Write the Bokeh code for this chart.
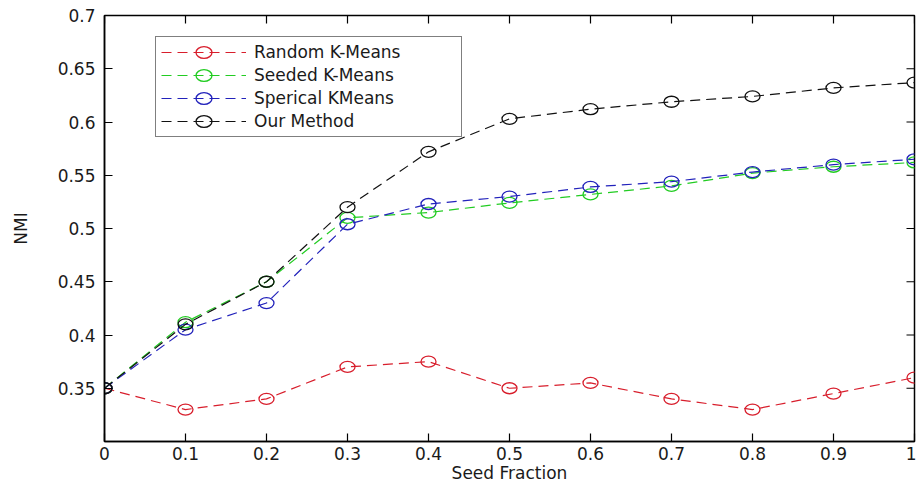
import math
from bokeh.plotting import figure
from bokeh.models import Range1d, FixedTicker, Legend, LegendItem
from bokeh.embed import file_html
from bokeh.resources import INLINE

# ---- data ----
seed_fraction = [0.0, 0.1, 0.2, 0.3, 0.4, 0.5, 0.6, 0.7, 0.8, 0.9, 1.0]
random_kmeans = [0.35, 0.33, 0.34, 0.37, 0.375, 0.35, 0.355, 0.34, 0.33, 0.345, 0.36]
seeded_kmeans = [0.35, 0.412, 0.45, 0.51, 0.515, 0.524, 0.532, 0.54, 0.552, 0.558, 0.562]
sperical_kmeans = [0.35, 0.405, 0.43, 0.504, 0.523, 0.53, 0.539, 0.544, 0.553, 0.56, 0.565]
our_method = [0.35, 0.41, 0.45, 0.52, 0.572, 0.603, 0.612, 0.619, 0.624, 0.632, 0.637]

series_names = ["Random K-Means", "Seeded K-Means", "Sperical KMeans", "Our Method"]
series_values = [random_kmeans, seeded_kmeans, sperical_kmeans, our_method]
series_colors = ["#d81e2c", "#22cc22", "#2222bb", "#111111"]

x_limits = [0.0, 1.0]
y_limits = [0.3, 0.7]
x_ticks = [0.0, 0.1, 0.2, 0.3, 0.4, 0.5, 0.6, 0.7, 0.8, 0.9, 1.0]
x_tick_labels = ["0", "0.1", "0.2", "0.3", "0.4", "0.5", "0.6", "0.7", "0.8", "0.9", "1"]
y_ticks = [0.35, 0.4, 0.45, 0.5, 0.55, 0.6, 0.65, 0.7]
y_tick_labels = ["0.35", "0.4", "0.45", "0.5", "0.55", "0.6", "0.65", "0.7"]

FONT = "DejaVu Sans"
TXT = "#1a1a1a"

p = figure(width=916, height=486, output_backend="svg", toolbar_location=None,
           x_range=Range1d(*x_limits), y_range=Range1d(*y_limits),
           x_axis_label="Seed Fraction", y_axis_label="NMI",
           min_border_left=104, min_border_right=2, min_border_top=15, min_border_bottom=45)

p.xgrid.visible = False
p.ygrid.visible = False
p.outline_line_color = "black"
p.outline_line_width = 1.5
p.background_fill_color = "white"
p.border_fill_color = "white"

xa = p.xaxis[0]
xa.ticker = FixedTicker(ticks=x_ticks)
xa.major_label_overrides = {t: l for t, l in zip(x_ticks, x_tick_labels)}
ya = p.yaxis[0]
ya.ticker = FixedTicker(ticks=y_ticks)
ya.major_label_overrides = {t: l for t, l in zip(y_ticks, y_tick_labels)}

for ax in (xa, ya):
    ax.major_tick_in = 8
    ax.major_tick_out = 0
    ax.minor_tick_in = 0
    ax.minor_tick_out = 0
    ax.axis_line_color = "black"
    ax.axis_line_width = 1.5
    ax.major_tick_line_color = "black"
    ax.major_tick_line_width = 1.2
    ax.major_label_text_font = FONT
    ax.major_label_text_font_size = "17px"
    ax.major_label_text_color = TXT
    ax.axis_label_text_font = FONT
    ax.axis_label_text_font_size = "17px"
    ax.axis_label_text_font_style = "normal"
    ax.axis_label_text_color = TXT

xa.major_label_standoff = 5
xa.axis_label_standoff = 0
ya.major_label_standoff = 9
ya.axis_label_standoff = 24

# MATLAB box ticks on the top and right edges (clipped to the frame, so only the inner half shows)
p.scatter(x_ticks, [y_limits[1]] * len(x_ticks), marker="dash", size=16, angle=math.pi / 2,
          line_color="black", line_width=1.2)
p.scatter([x_limits[1]] * len(y_ticks), y_ticks, marker="dash", size=16,
          line_color="black", line_width=1.2)

items = []
for name, vals, col in zip(series_names, series_values, series_colors):
    lr = p.line(seed_fraction, vals, line_color=col, line_width=1.2, line_dash="10 6")
    mr = p.ellipse(seed_fraction, vals, width=15, height=11,
                   width_units="screen", height_units="screen",
                   fill_color=None, line_color=col, line_width=1.3)
    items.append(LegendItem(label=name, renderers=[lr, mr]))

legend = Legend(items=items, location=(51, 304), padding=5, spacing=3,
                glyph_width=85, glyph_height=20, label_height=20, label_width=202,
                label_standoff=8, label_text_font=FONT, label_text_font_size="17px",
                label_text_color=TXT, border_line_color="black", border_line_width=1.5,
                background_fill_color="white", background_fill_alpha=1.0, margin=0)
p.add_layout(legend)

open("out.html", "w").write(file_html(p, INLINE))
